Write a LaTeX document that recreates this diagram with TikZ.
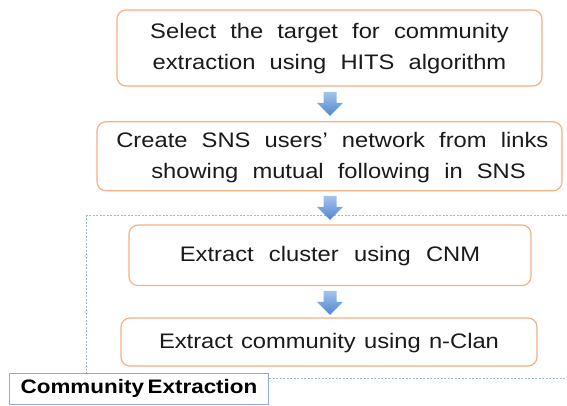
\documentclass[tikz,border=0pt]{standalone}
\usepackage{fontspec}
\setmainfont{Liberation Sans}
\usetikzlibrary{calc}
\definecolor{boxline}{HTML}{F4B183}
\definecolor{arrowblue}{HTML}{4F86D0}
\definecolor{arrowtop}{HTML}{A4C3EC}
\definecolor{dotblue}{HTML}{9DB5E0}
\definecolor{labelline}{HTML}{8FAADC}
\definecolor{txt}{HTML}{1A1A1A}
\newcommand\wsp{\hspace{12.5pt}}
\newcommand\wsb{\hspace{13.5pt}}
\newcommand\wsc{\hspace{7.3pt}}
\newcommand\stretchtxt[1]{\scalebox{1.13}[1]{\begin{tabular}{@{}c@{}}#1\end{tabular}}}
\tikzset{
  stepbox/.style={draw=boxline, line width=1.2pt, rounded corners=9pt, fill=white,
    inner sep=0pt, align=center, text=txt, font=\fontsize{21}{31}\selectfont},
  labelbox/.style={draw=labelline, line width=1pt, fill=white, inner sep=0pt,
    font=\fontsize{19.5}{20}\selectfont\bfseries, text=black},
  frameline/.style={draw=dotblue, line width=0.8pt, dash pattern=on 2pt off 1.5pt},
  pics/blockarrow/.style={code={
    \shade[top color=arrowtop, bottom color=arrowblue]
      (-6.5,-12) -- (6.5,-12) -- (6.5,-1) -- (13,-1) -- (0,12) -- (-13,-1) -- (-6.5,-1) -- cycle;
  }}
}
\begin{document}
\begin{tikzpicture}[x=1pt,y=-1pt]
\useasboundingbox (0,0) rectangle (567,405);
% boxes
\node[stepbox, minimum width=425pt, minimum height=76pt] (b1) at (329.5,48)
  {\stretchtxt{Select\wsp the\wsp target\wsp for\wsp community\\extraction\wsp using\wsp HITS\wsp algorithm}};
\node[stepbox, minimum width=465pt, minimum height=69pt] (b2) at (329.5,156.3)
  {\stretchtxt{\hspace{5pt}Create\wsp SNS\wsp users'\wsp network\wsp from\wsp links\\\hspace{16pt}showing\wsp mutual\wsp following\wsp in\wsp SNS}};
% frame
\coordinate (ftl) at (86.7,215.5);
\coordinate (ftr) at (567,215.5);
\coordinate (fbr) at (567,378);
\node[labelbox, minimum width=259pt, minimum height=31pt, anchor=west] (lab) at (9,388.5)
  {\scalebox{1.15}[1]{Community\,Extraction}\hspace{6pt}};
\draw[frameline] (ftr) -- (ftl) -- (ftl |- lab.north);
\draw[frameline] (lab.east |- fbr) -- (fbr);
\node[stepbox, minimum width=402pt, minimum height=60.5pt] (b3) at (330,255.3)
  {\stretchtxt{Extract\wsb cluster\wsb using\wsb CNM}};
\node[stepbox, minimum width=416pt, minimum height=48pt] (b4) at (329,342)
  {\stretchtxt{Extract\wsc community\wsc using\wsc n-Clan}};
% arrows
\coordinate (a1) at ($(b1.south)!0.5!(b2.north)+(0.5,0)$);
\coordinate (a2) at ($(b2.south)!0.5!(b3.north)+(0.3,0)$);
\coordinate (a3) at ($(b3.south)!0.5!(b4.north)+(0.5,1)$);
\pic at (a1) {blockarrow};
\pic at (a2) {blockarrow};
\pic at (a3) {blockarrow};
\end{tikzpicture}
\end{document}
